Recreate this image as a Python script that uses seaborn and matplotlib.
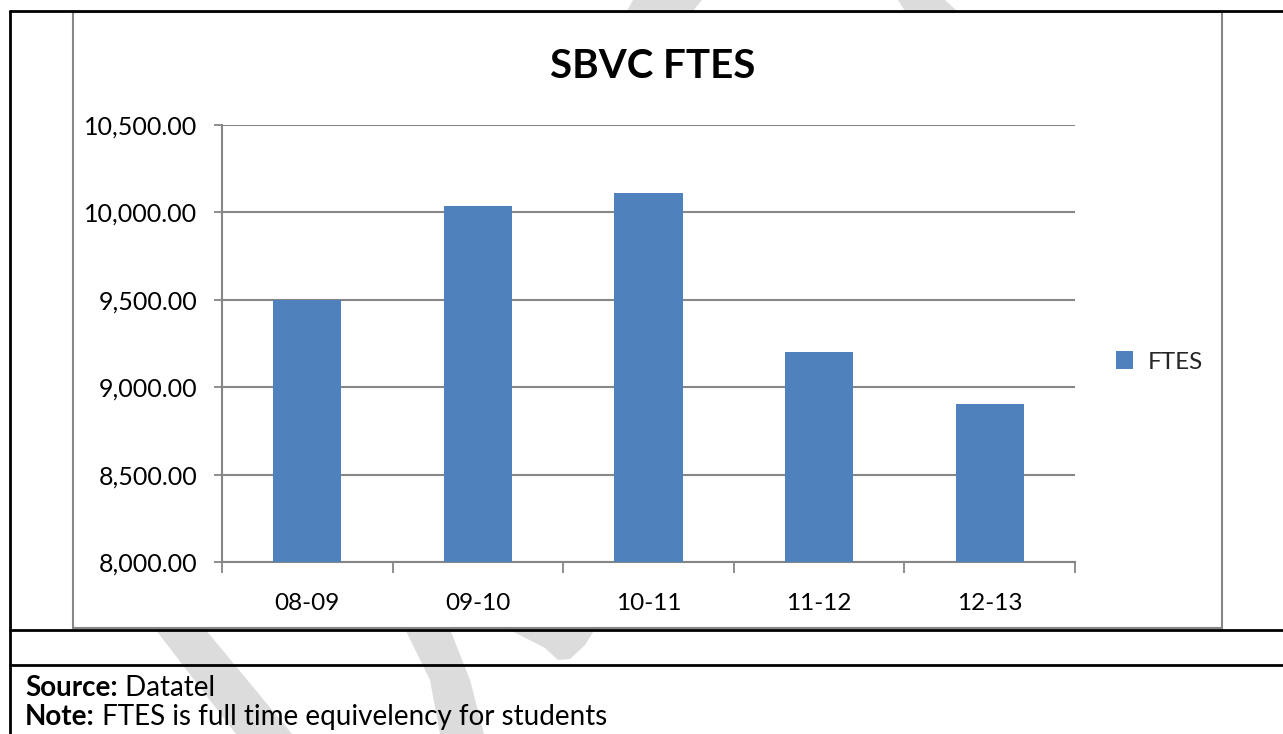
import matplotlib
matplotlib.use('Agg')
import matplotlib.pyplot as plt
import seaborn as sns
from matplotlib.patches import Rectangle, Polygon
from matplotlib.lines import Line2D
from matplotlib.ticker import FuncFormatter, FixedLocator

# Data
years = ['08-09', '09-10', '10-11', '11-12', '12-13']
ftes = [9500, 10038, 10109, 9200, 8905]
y_ticks = [8000, 8500, 9000, 9500, 10000, 10500]

W, H = 1283, 734
bar_color = '#4F81BD'
grid_color = '#868686'

sns.set_theme(style='white')
plt.rcParams['font.family'] = ['Lato', 'DejaVu Sans']

fig = plt.figure(figsize=(W / 100, H / 100), dpi=100)


def fx(x):
    return x / W


def fy(y):
    return 1 - y / H


# faint watermark strokes behind everything
wm_color = '#dcdcdc'
watermark = [
    [(633, 0), (702, 0), (693, 11), (627, 11)],
    [(898, 0), (945, 0), (957, 11), (905, 11)],
    [(155, 629), (205, 629), (292, 734), (236, 734)],
    [(405, 629), (450, 629), (470, 680), (484, 734), (440, 734), (430, 680)],
    [(508, 629), (595, 629), (585, 645), (570, 659), (558, 660), (545, 648)],
]
for pts in watermark:
    fig.add_artist(Polygon([(fx(a), fy(b)) for a, b in pts], closed=True,
                           transform=fig.transFigure, facecolor=wm_color,
                           edgecolor='none', zorder=-5))

# chart frame
fig.add_artist(Rectangle((fx(73), fy(628)), fx(1222) - fx(73), fy(12) - fy(628),
                         transform=fig.transFigure, facecolor='white',
                         edgecolor='#878787', lw=1.5, zorder=-2))

# table lines
for y in [11, 629.5, 665]:
    fig.add_artist(Line2D([fx(10), 1], [fy(y), fy(y)], transform=fig.transFigure,
                          color='black', lw=2, zorder=1))
fig.add_artist(Line2D([fx(10), fx(10)], [fy(11), 0], transform=fig.transFigure,
                      color='black', lw=2, zorder=1))

ax = fig.add_axes([fx(222), fy(562), fx(1075) - fx(222), fy(125) - fy(562)])
ax.patch.set_alpha(0)

sns.barplot(x=years, y=ftes, color=bar_color, width=0.4, saturation=1,
            linewidth=0, label='FTES', ax=ax, zorder=3)

ax.set_ylim(8000, 10500)
ax.set_xlim(-0.5, len(years) - 0.5)
ax.yaxis.set_major_locator(FixedLocator(y_ticks))
ax.yaxis.set_major_formatter(FuncFormatter(lambda v, p: f'{v:,.2f}'))
ax.yaxis.grid(True, color=grid_color, lw=1.5, zorder=0)
ax.set_axisbelow(True)

ax.xaxis.set_minor_locator(FixedLocator([i - 0.5 for i in range(len(years) + 1)]))
ax.tick_params(axis='x', which='major', length=0, pad=22, labelsize=17.5, labelcolor='black')
ax.tick_params(axis='x', which='minor', length=8, width=1.3, color=grid_color,
               direction='out', bottom=True)
ax.tick_params(axis='y', length=6, width=1.3, color=grid_color, direction='out',
               left=True, pad=12, labelsize=18, labelcolor='black')
ax.set_xlabel('')
ax.set_ylabel('')

for s in ['top', 'right']:
    ax.spines[s].set_visible(False)
for s in ['left', 'bottom']:
    ax.spines[s].set_color(grid_color)
    ax.spines[s].set_linewidth(1.5)

ax.legend(loc='center left', bbox_to_anchor=(fx(1116), fy(362)),
          bbox_transform=fig.transFigure, frameon=False, fontsize=17.5,
          handlelength=0.7, handleheight=0.7, handletextpad=0.6,
          borderpad=0, borderaxespad=0)

fig.text(fx(653), fy(67), 'SBVC FTES', ha='center', va='center',
         fontsize=29, fontweight='bold', color='black')

# source / note lines
renderer = fig.canvas.get_renderer()
for label, rest, y in [('Source:', ' Datatel', 688), ('Note:', ' FTES is full time equivelency for students', 717)]:
    t = fig.text(fx(25), fy(y), label, ha='left', va='center', fontsize=20,
                 fontweight='bold', color='black')
    bb = t.get_window_extent(renderer=renderer)
    fig.text(bb.x1 / W, fy(y), rest, ha='left', va='center', fontsize=20, color='black')

fig.savefig('out.png', dpi=100)
